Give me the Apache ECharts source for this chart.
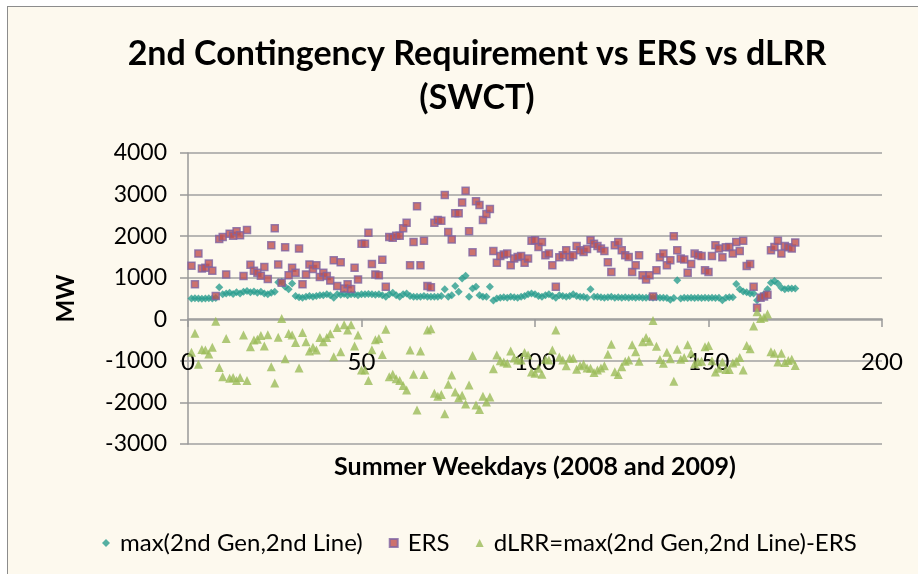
<!DOCTYPE html>
<html>
<head>
<meta charset="UTF-8">
<title>2nd Contingency Requirement vs ERS vs dLRR (SWCT)</title>
<script src="https://cdn.jsdelivr.net/npm/echarts@6/dist/echarts.min.js"></script>
<style>
html, body { margin: 0; padding: 0; background: #fff; overflow: hidden; }
#frame { position: absolute; left: 7px; top: 6px; width: 1000px; height: 1000px;
	border: 1px solid #8c8c8c; background: #fdf9ee; }
#chart { position: absolute; left: 0; top: 0; width: 918px; height: 574px; }
</style>
</head>
<body>
<div id="frame"></div>
<div id="chart"></div>
<script>
// summer weekdays 1..175, MW
var maxGenLine = [
	500, 505, 500, 495, 500, 505, 500, 510, 770, 600,
	620, 640, 610, 650, 620, 660, 680, 650, 670, 640,
	660, 620, 600, 640, 660, 890, 900, 780, 720, 860,
	560, 530, 520, 540, 560, 540, 560, 580, 580, 600,
	580, 520, 600, 590, 610, 580, 600, 600, 580, 600,
	600, 610, 600, 590, 600, 580, 540, 600, 640, 580,
	540, 600, 620, 560, 540, 540, 540, 560, 540, 540,
	540, 540, 560, 720, 540, 580, 800, 660, 980, 1050,
	540, 740, 780, 580, 540, 540, 780, 450, 500, 520,
	530, 520, 540, 530, 520, 540, 560, 600, 620, 600,
	560, 540, 580, 600, 560, 520, 580, 560, 540, 560,
	600, 560, 540, 540, 520, 720, 540, 540, 530, 520,
	530, 540, 520, 530, 520, 530, 520, 530, 520, 530,
	520, 520, 530, 520, 530, 520, 520, 510, 470, 510,
	940, 500, 520, 510, 520, 510, 520, 510, 520, 510,
	520, 510, 520, 460, 520, 530, 530, 850, 720, 670,
	650, 620, 620, 460, 540, 600, 720, 880, 920, 860,
	760, 720, 740, 740, 740
];
var ers = [
	1290, 840, 1580, 1220, 1240, 1340, 1170, 560, 1930, 1980,
	1080, 2060, 2010, 2120, 2020, 1040, 2150, 1310, 1170, 1120,
	1050, 1260, 970, 1780, 2190, 1320, 880, 1730, 1060, 1240,
	1120, 1700, 840, 1080, 1320, 1210, 1300, 1020, 1120, 1040,
	930, 1420, 800, 1370, 740, 840, 730, 1240, 960, 1820,
	1820, 2080, 1330, 1080, 1060, 1430, 780, 1980, 1960, 2010,
	2010, 2190, 2320, 1300, 1860, 2720, 1300, 1890, 800, 770,
	2320, 2390, 2370, 2990, 2100, 1920, 2550, 2550, 2810, 3090,
	2120, 1610, 2840, 2750, 2390, 2530, 2650, 1640, 1360, 1520,
	1560, 1580, 1300, 1460, 1500, 1520, 1360, 1460, 1890, 1900,
	1740, 1860, 1540, 1580, 1300, 780, 1490, 1540, 1660, 1500,
	1540, 1760, 1660, 1620, 1690, 1900, 1820, 1760, 1700, 1640,
	1370, 1140, 1780, 1860, 1660, 1540, 1500, 1140, 1300, 1540,
	1060, 960, 1060, 550, 1180, 1490, 1580, 1300, 1420, 2000,
	1660, 1460, 1440, 1120, 1330, 1580, 1540, 1520, 1180, 1140,
	1520, 1780, 1700, 1490, 1730, 1740, 1580, 1860, 1640, 1890,
	1280, 1330, 780, 280, 520, 550, 590, 1660, 1740, 1890,
	1580, 1760, 1730, 1700, 1850
];
var dlrr = [
	-790, -335, -1080, -725, -740, -835, -670, -50, -1160, -1380,
	-460, -1420, -1400, -1470, -1400, -380, -1470, -660, -500, -480,
	-390, -640, -370, -1140, -1530, -430, 20, -950, -340, -380,
	-560, -1170, -320, -540, -760, -670, -740, -440, -540, -440,
	-350, -900, -200, -780, -130, -260, -130, -640, -380, -1220,
	-1220, -1470, -730, -490, -460, -850, -240, -1380, -1320, -1430,
	-1470, -1590, -1700, -740, -1320, -2180, -760, -1330, -260, -230,
	-1780, -1850, -1810, -2270, -1560, -1340, -1750, -1890, -1830, -2040,
	-1580, -870, -2060, -2170, -1850, -1990, -1870, -1190, -860, -1000,
	-1030, -1060, -760, -930, -980, -980, -800, -860, -1270, -1300,
	-1180, -1320, -960, -980, -740, -260, -910, -980, -1120, -940,
	-940, -1200, -1120, -1080, -1170, -1180, -1280, -1220, -1170, -1120,
	-840, -600, -1260, -1330, -1140, -1010, -980, -610, -780, -1010,
	-540, -440, -530, -30, -650, -970, -1060, -790, -950, -1490,
	-720, -960, -920, -610, -810, -1070, -1020, -1010, -660, -630,
	-1000, -1270, -1180, -1030, -1210, -1210, -1050, -1010, -920, -1220,
	-630, -710, -160, 180, 20, 50, 130, -780, -820, -1030,
	-820, -1040, -990, -960, -1110
];

var seriesNames = ['max(2nd Gen,2nd Line)', 'ERS', 'dLRR=max(2nd Gen,2nd Line)-ERS'];
var font = 'Lato, "Open Sans", sans-serif';

// pair each value with its weekday number
function toPoints(arr) {
	return arr.map(function (v, i) { return [i + 1, v]; });
}
function plain(v) { return String(v); }

var myChart = echarts.init(document.getElementById('chart'), null, { renderer: 'canvas' });
var option = {
	backgroundColor: 'transparent',
	animation: false,
	textStyle: { fontFamily: font },
	title: {
		text: '2nd Contingency Requirement vs ERS vs dLRR\n(SWCT)',
		left: 472,
		top: 27,
		textAlign: 'center',
		textStyle: { fontFamily: font, fontSize: 34, fontWeight: 'bold', color: '#000', lineHeight: 44 }
	},
	grid: { left: 188, right: 36, top: 153, bottom: 130, outerBoundsMode: 'none', containLabel: false },
	legend: {
		left: 97,
		top: 526,
		itemGap: 26,
		itemWidth: 8,
		itemHeight: 8,
		textStyle: { fontFamily: font, fontSize: 24, color: '#000', padding: [0, 0, 0, 5] },
		data: seriesNames
	},
	xAxis: {
		type: 'value',
		min: 0,
		max: 200,
		interval: 50,
		name: 'Summer Weekdays (2008 and 2009)',
		nameLocation: 'middle',
		nameGap: 135,
		nameTextStyle: { fontFamily: font, fontSize: 25, fontWeight: 'bold', color: '#000' },
		// the axis line sits at MW = 0, i.e. 125 px above the bottom of the grid
		offset: -125,
		axisLine: { onZero: false, lineStyle: { color: '#999', width: 1.5 } },
		axisTick: { show: true, length: 8, lineStyle: { color: '#999', width: 1.5 } },
		axisLabel: { margin: 31, fontSize: 24, color: '#000', fontFamily: font, formatter: plain },
		splitLine: { show: false }
	},
	yAxis: {
		type: 'value',
		min: -3000,
		max: 4000,
		interval: 1000,
		name: 'MW',
		nameLocation: 'middle',
		nameGap: 110,
		nameRotate: 90,
		nameTextStyle: { fontFamily: font, fontSize: 24, fontWeight: 'bold', color: '#000' },
		axisLine: { show: true, onZero: false, lineStyle: { color: '#999', width: 1.5 } },
		axisTick: { show: true, length: 8, lineStyle: { color: '#999', width: 1.5 } },
		axisLabel: { margin: 21, fontSize: 23, color: '#000', fontFamily: font, formatter: plain },
		splitLine: { show: true, lineStyle: { color: '#a0a0a0', width: 1.5 } }
	},
	series: [
		{
			name: seriesNames[0],
			type: 'scatter',
			symbol: 'diamond',
			symbolSize: 8,
			itemStyle: { color: '#2b9d8e' },
			data: toPoints(maxGenLine)
		},
		{
			name: seriesNames[1],
			type: 'scatter',
			symbol: 'rect',
			symbolSize: 7,
			itemStyle: { color: '#c0504d', borderColor: '#8064a2', borderWidth: 1.5 },
			data: toPoints(ers)
		},
		{
			name: seriesNames[2],
			type: 'scatter',
			symbol: 'triangle',
			symbolSize: 9,
			itemStyle: { color: '#9bbb59' },
			data: toPoints(dlrr)
		}
	]
};
myChart.setOption(option);
</script>
</body>
</html>
